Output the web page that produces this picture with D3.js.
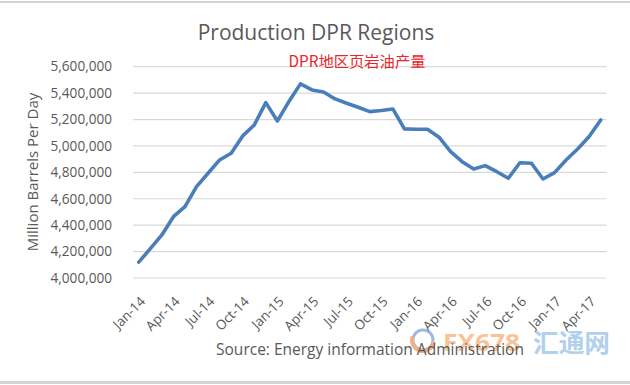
<!DOCTYPE html>
<html>
<head>
<meta charset="utf-8">
<script src="https://cdn.jsdelivr.net/npm/d3@7"></script>
<style>
  body { margin: 0; background: #fff; }
  svg text { font-family: "Open Sans", "Noto Sans", sans-serif; }
</style>
</head>
<body>
<svg id="chart"></svg>
<script>
var width = 630, height = 385;

// monthly categories Jan-14 .. May-17
var months = ["Jan-14","Feb-14","Mar-14","Apr-14","May-14","Jun-14","Jul-14","Aug-14","Sep-14","Oct-14","Nov-14","Dec-14",
              "Jan-15","Feb-15","Mar-15","Apr-15","May-15","Jun-15","Jul-15","Aug-15","Sep-15","Oct-15","Nov-15","Dec-15",
              "Jan-16","Feb-16","Mar-16","Apr-16","May-16","Jun-16","Jul-16","Aug-16","Sep-16","Oct-16","Nov-16","Dec-16",
              "Jan-17","Feb-17","Mar-17","Apr-17","May-17"];

var production = [4120000, 4222000, 4326000, 4464000, 4540000, 4692000, 4793000, 4894000, 4945000, 5076000, 5159000, 5328000,
                  5189000, 5336000, 5470000, 5424000, 5409000, 5356000, 5323000, 5293000, 5260000, 5268000, 5280000, 5129000,
                  5126000, 5126000, 5066000, 4957000, 4881000, 4826000, 4851000, 4805000, 4755000, 4873000, 4869000, 4750000,
                  4798000, 4894000, 4977000, 5071000, 5197000];

var yTicks = [4000000, 4200000, 4400000, 4600000, 4800000, 5000000, 5200000, 5400000, 5600000];
var xTickLabels = ["Jan-14","Apr-14","Jul-14","Oct-14","Jan-15","Apr-15","Jul-15","Oct-15","Jan-16","Apr-16","Jul-16","Oct-16","Jan-17","Apr-17"];

var svg = d3.select("#chart").attr("width", width).attr("height", height);

var plot = { left: 133, right: 606.5, top: 66.7, bottom: 278 };

var x = d3.scaleBand().domain(months).range([plot.left, plot.right]);
var y = d3.scaleLinear().domain([4000000, 5600000]).range([plot.bottom, plot.top]);
var cx = function(m) { return x(m) + x.bandwidth() / 2; };

// frame lines top/bottom
svg.append("line").attr("x1", 0).attr("x2", width).attr("y1", 2).attr("y2", 2)
   .attr("stroke", "#d4d4d4").attr("stroke-width", 2);
svg.append("line").attr("x1", 0).attr("x2", width).attr("y1", 382.5).attr("y2", 382.5)
   .attr("stroke", "#d4d4d4").attr("stroke-width", 3);

// gridlines
svg.append("g").selectAll("line").data(yTicks).enter().append("line")
   .attr("x1", plot.left).attr("x2", plot.right)
   .attr("y1", function(d) { return y(d); }).attr("y2", function(d) { return y(d); })
   .attr("stroke", "#d9d9d9").attr("stroke-width", 1.2);

// y axis labels
var fmt = d3.format(",");
svg.append("g").selectAll("text").data(yTicks).enter().append("text")
   .attr("x", 112).attr("y", function(d) { return y(d); })
   .attr("dy", "0.35em").attr("text-anchor", "end")
   .attr("font-size", 13.6).attr("fill", "#595959")
   .text(function(d) { return fmt(d); });

// x axis labels, rotated
svg.append("g").selectAll("text").data(xTickLabels).enter().append("text")
   .attr("transform", function(d) { return "translate(" + (cx(d) + 4) + ",299) rotate(-45)"; })
   .attr("dy", "0.35em").attr("text-anchor", "end")
   .attr("font-size", 13.4).attr("fill", "#595959")
   .text(function(d) { return d; });

// y axis title
svg.append("text")
   .attr("transform", "translate(33,172) rotate(-90)")
   .attr("dy", "0.35em").attr("text-anchor", "middle")
   .attr("font-size", 15).attr("fill", "#595959")
   .text("Million Barrels Per Day");

// line
var line = d3.line()
   .x(function(d, i) { return cx(months[i]); })
   .y(function(d) { return y(d); });

svg.append("path").datum(production)
   .attr("d", line)
   .attr("fill", "none")
   .attr("stroke", "#4a7ebb")
   .attr("stroke-width", 3.6)
   .attr("stroke-linejoin", "round")
   .attr("stroke-linecap", "round");

// titles
svg.append("text").attr("x", 316).attr("y", 40).attr("text-anchor", "middle")
   .attr("font-size", 21).attr("fill", "#595959")
   .text("Production DPR Regions");

svg.append("text").attr("x", 357).attr("y", 67).attr("text-anchor", "middle")
   .attr("font-size", 15.3).attr("fill", "#e8262b")
   .style("font-family", "'Noto Sans CJK SC', 'Noto Sans', sans-serif")
   .text("DPR地区页岩油产量");

// watermark (overlays the source line as in the original)
var wm = svg.append("g").attr("opacity", 0.68);
wm.append("circle").attr("cx", 423).attr("cy", 340).attr("r", 10)
  .attr("fill", "none").attr("stroke", "#6f9bd0").attr("stroke-width", 3);
wm.append("path").attr("d", d3.arc()({ innerRadius: 9, outerRadius: 13, startAngle: Math.PI * 0.55, endAngle: Math.PI * 1.6 }))
  .attr("transform", "translate(423,340)").attr("fill", "#f08a4b");
wm.append("text").attr("x", 443).attr("y", 351).attr("font-size", 24).attr("font-weight", "bold")
  .attr("textLength", 77).attr("lengthAdjust", "spacingAndGlyphs")
  .attr("fill", "#f6a86a").text("FX678");
wm.append("text").attr("x", 533).attr("y", 352).attr("font-size", 25).attr("font-weight", "bold")
  .attr("textLength", 77).attr("lengthAdjust", "spacingAndGlyphs")
  .style("font-family", "'Noto Sans CJK SC', sans-serif")
  .attr("fill", "#8dbbe6").text("汇通网");

// source
svg.append("text").attr("x", 370).attr("y", 355).attr("text-anchor", "middle")
   .attr("font-size", 15.5).attr("fill", "#595959")
   .text("Source: Energy information Administration");
</script>
</body>
</html>
